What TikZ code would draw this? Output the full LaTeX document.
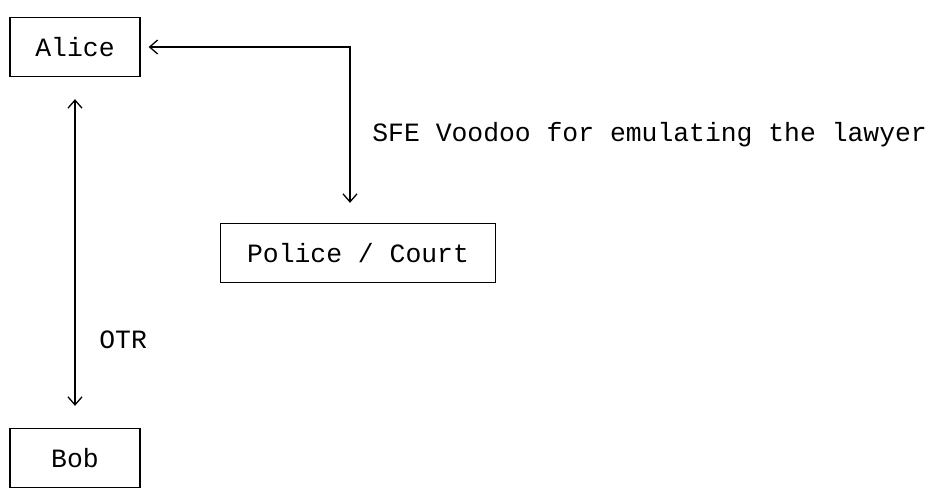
\documentclass[tikz,border=0pt]{standalone}
\usepackage{fontspec}
\newfontfamily\asciimono{Liberation Mono}
\usepackage{tikz}
\usetikzlibrary{arrows.meta}

\begin{document}
\begin{tikzpicture}[x=0.5pt,y=-0.5pt,
  party/.style={draw,line width=0.65pt,inner sep=0pt,minimum height=29.5pt,
    font=\asciimono\fontsize{13.2}{14.7}\selectfont},
  link/.style={line width=0.65pt,
    {Straight Barb[length=4pt,width=7pt]}-{Straight Barb[length=4pt,width=7pt]}},
  note/.style={inner sep=0pt,anchor=west,font=\asciimono\fontsize{13.2}{14.7}\selectfont}]
\useasboundingbox (0,0) rectangle (933,491);
\node[party,minimum width=65pt] (alice) at (75,47) {Alice};
\node[party,minimum width=137.5pt] (police) at (358,253) {Police / Court};
\node[party,minimum width=65pt] (bob) at (75,458) {Bob};
\coordinate (turn) at (350,47);
\draw[link,shorten <=4pt,shorten >=10pt] (alice.east) -- (turn) -- (turn |- police.north);
\draw[link,shorten <=11pt,shorten >=11pt] (alice.south) -- (bob.north);
\node[note] (sfe) at (372,135) {SFE Voodoo for emulating the lawyer};
\node[note] (otr) at (99,340) {OTR};
\end{tikzpicture}
\end{document}
